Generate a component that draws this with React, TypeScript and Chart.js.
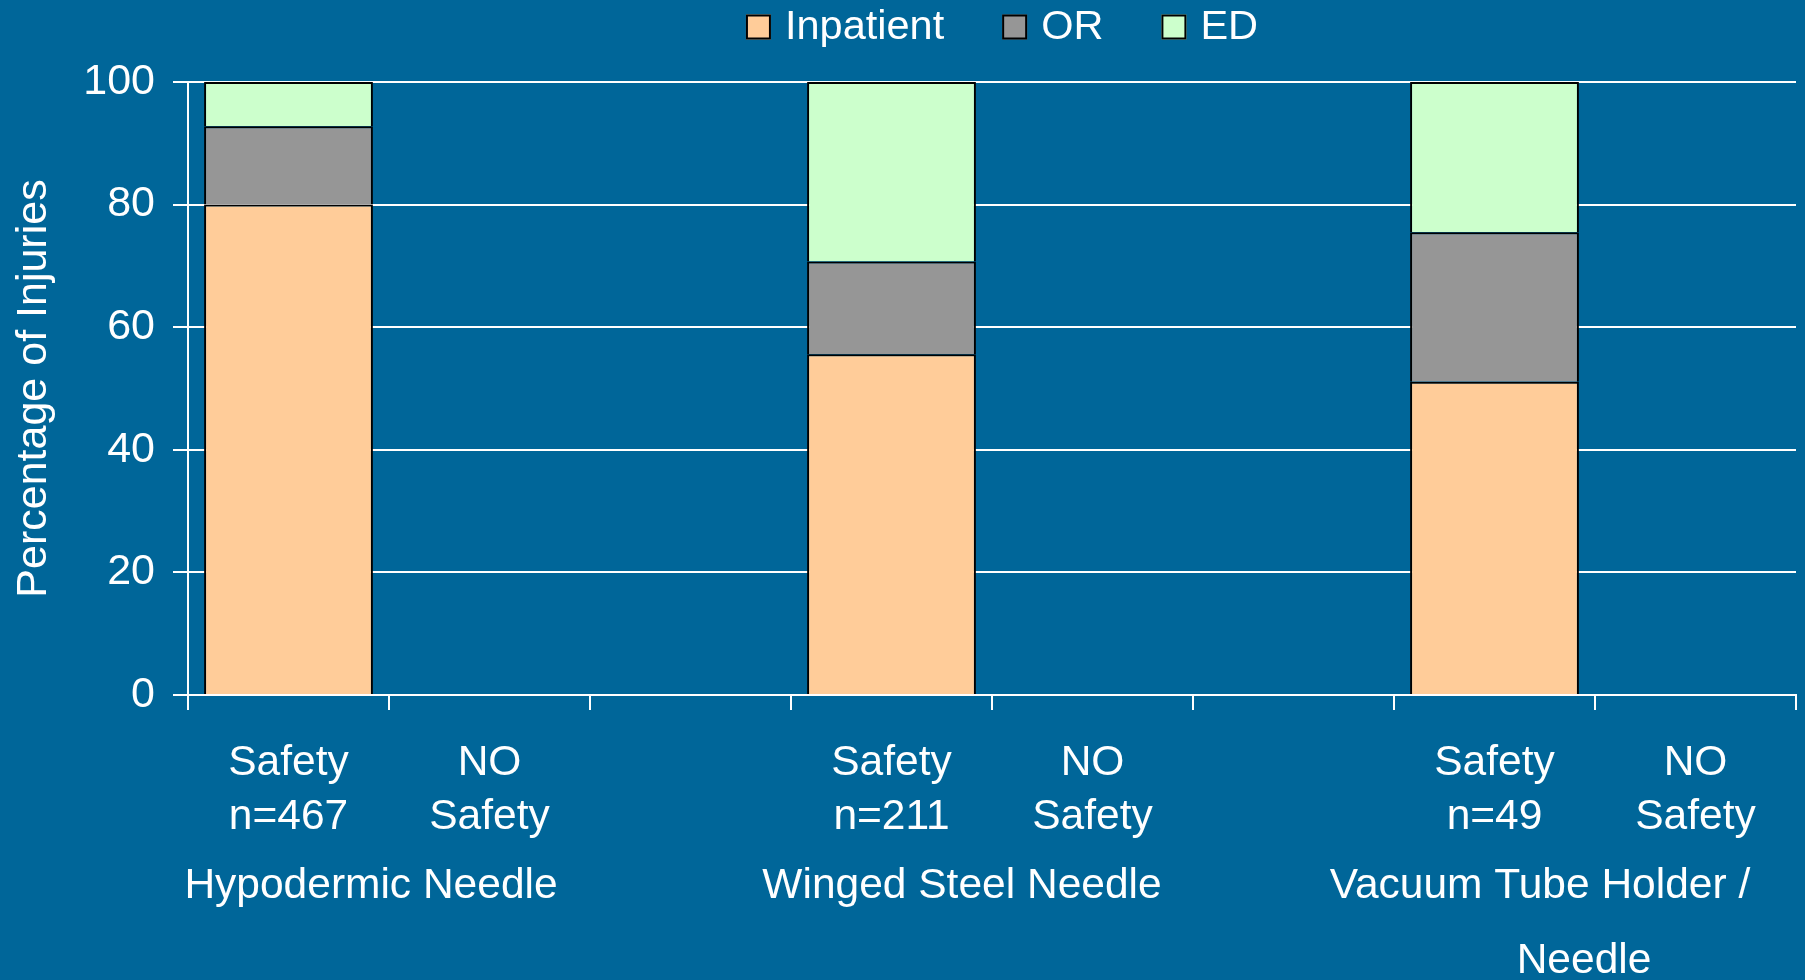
import React, { useEffect, useRef } from "react";
import { Chart, registerables } from "chart.js";

Chart.register(...registerables);

// ---- data ----
const categories: (string | string[])[] = [
  ["Safety", "n=467"],
  ["NO", "Safety"],
  "",
  ["Safety", "n=211"],
  ["NO", "Safety"],
  "",
  ["Safety", "n=49"],
  ["NO", "Safety"],
];
const inpatientValues = [80, null, null, 55.6, null, null, 51.1, null];
const orValues = [12.8, null, null, 15.1, null, null, 24.4, null];
const edValues = [7.2, null, null, 29.3, null, null, 24.5, null];
const seriesNames = ["Inpatient", "OR", "ED"];
const groupLabels = [["Hypodermic Needle"], ["Winged Steel Needle"], ["Vacuum Tube Holder /", "Needle"]];
const groupSpans = [
  [0, 1],
  [3, 4],
  [6, 7],
];
const yTickValues = [0, 20, 40, 60, 80, 100];
const yTitle = "Percentage of Injuries";

// ---- style ----
const BG = "#006699";
const COLORS = ["#FFCC99", "#969696", "#CCFFCC"];
const FONT = "'Liberation Sans', Arial, Helvetica, sans-serif";
const WHITE = "#FFFFFF";
const groupLineOffsets = [[-18], [-30], [-55, -11]];

const bgPlugin = {
  id: "bg",
  beforeDraw(chart: any) {
    const ctx = chart.ctx;
    ctx.save();
    ctx.fillStyle = BG;
    ctx.fillRect(0, 0, chart.width, chart.height);
    ctx.restore();
  },
};

const legendPlugin = {
  id: "customLegend",
  afterDraw(chart: any) {
    const ctx = chart.ctx;
    const area = chart.chartArea;
    ctx.save();
    ctx.font = `41.5px ${FONT}`;
    const box = 25;
    const gapText = 14;
    const gapItem = 58;
    const widths = seriesNames.map((n) => ctx.measureText(n).width);
    const total = widths.reduce((s, w) => s + box + gapText + w, 0) + gapItem * (seriesNames.length - 1);
    let x = (area.left + area.right) / 2 + 10 - total / 2;
    const cy = 27;
    seriesNames.forEach((name, i) => {
      ctx.fillStyle = COLORS[i];
      ctx.fillRect(x, cy - box / 2, box, box);
      ctx.lineWidth = 2;
      ctx.strokeStyle = "#000";
      ctx.strokeRect(x + 1, cy - box / 2 + 1, box - 2, box - 2);
      ctx.fillStyle = WHITE;
      ctx.textBaseline = "middle";
      ctx.textAlign = "left";
      ctx.fillText(name, x + box + gapText, cy + 1);
      x += box + gapText + widths[i] + gapItem;
    });
    ctx.restore();
  },
};

const groupLabelPlugin = {
  id: "groupLabels",
  afterDraw(chart: any) {
    const ctx = chart.ctx;
    const xs = chart.scales.x;
    const bottom = chart.chartArea.bottom;
    ctx.save();
    ctx.font = `42.5px ${FONT}`;
    ctx.fillStyle = WHITE;
    ctx.textAlign = "center";
    ctx.textBaseline = "middle";
    groupLabels.forEach((lines, g) => {
      const [a, b] = groupSpans[g];
      const mid = (xs.getPixelForValue(a) + xs.getPixelForValue(b)) / 2;
      lines.forEach((line, li) => {
        ctx.fillText(line, mid + groupLineOffsets[g][li], bottom + 191 + li * 75);
      });
    });
    ctx.restore();
  },
};

export default function App() {
  const ref = useRef<HTMLCanvasElement>(null);
  useEffect(() => {
    document.body.style.margin = "0";
    const canvas = ref.current!;
    const mk = (label: string, data: (number | null)[], i: number) => ({
      label,
      data,
      backgroundColor: COLORS[i],
      borderColor: "#000000",
      borderWidth: 2,
      categoryPercentage: 1,
      barPercentage: 0.84,
    });
    const chart = new Chart(canvas, {
      type: "bar",
      data: {
        labels: categories,
        datasets: [
          mk(seriesNames[0], inpatientValues, 0),
          mk(seriesNames[1], orValues, 1),
          mk(seriesNames[2], edValues, 2),
        ],
      },
      options: {
        animation: false,
        responsive: false,
        maintainAspectRatio: false,
        layout: { padding: { top: 82, right: 9, left: 0, bottom: 0 } },
        plugins: {
          legend: { display: false },
          tooltip: { enabled: false },
        },
        scales: {
          x: {
            stacked: true,
            offset: true,
            grid: {
              offset: true,
              drawOnChartArea: true,
              color: (c: any) => (c.index === categories.length ? WHITE : "rgba(0,0,0,0)"),
              tickColor: WHITE,
              lineWidth: 2,
              tickLength: 15,
            },
            border: { display: true, color: WHITE, width: 2 },
            ticks: {
              color: WHITE,
              font: { family: FONT, size: 42.5, lineHeight: 1.27 },
              padding: 26,
              maxRotation: 0,
              autoSkip: false,
            },
            afterFit: (s: any) => {
              s.height = 285;
            },
          },
          y: {
            stacked: true,
            min: 0,
            max: 100,
            afterBuildTicks: (s: any) => {
              s.ticks = yTickValues.map((v) => ({ value: v }));
            },
            grid: {
              color: WHITE,
              lineWidth: 2,
              tickLength: 15,
              tickColor: WHITE,
            },
            border: { display: true, color: WHITE, width: 2 },
            ticks: {
              color: WHITE,
              font: { family: FONT, size: 43 },
              padding: 18,
            },
            title: {
              display: true,
              text: yTitle,
              color: WHITE,
              font: { family: FONT, size: 43 },
              padding: { top: 8, bottom: 0 },
            },
            afterFit: (s: any) => {
              s.width = 188;
            },
          },
        },
      },
      plugins: [bgPlugin, legendPlugin, groupLabelPlugin],
    });
    return () => chart.destroy();
  }, []);
  return (
    <div style={{ position: "absolute", left: 0, top: 0, width: 1805, height: 980 }}>
      <canvas ref={ref} width={1805} height={980} style={{ display: "block", width: 1805, height: 980 }} />
    </div>
  );
}
